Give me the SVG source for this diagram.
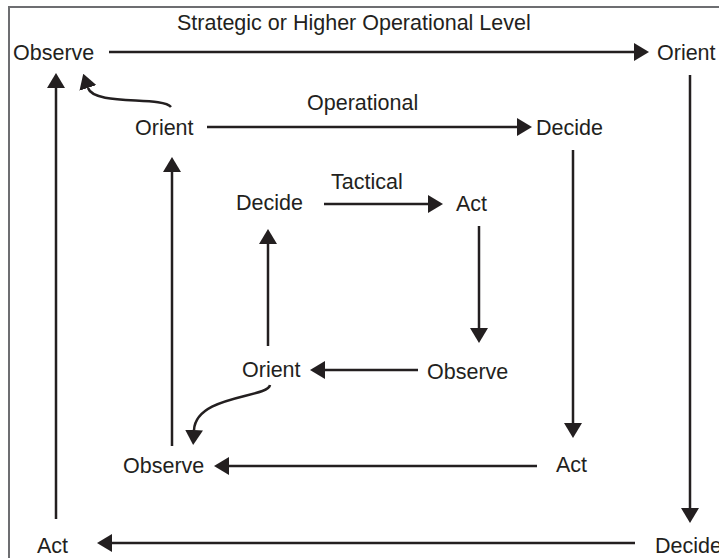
<svg xmlns="http://www.w3.org/2000/svg" width="719" height="558" viewBox="0 0 719 558">
<style>
text{font-family:"Liberation Sans",Arial,sans-serif;font-size:21.5px;fill:#231f20}
.c{fill:none;stroke:#231f20;stroke-width:2.5;marker-end:url(#ah)}
</style>
<defs>
<marker id="ah" markerUnits="userSpaceOnUse" viewBox="0 0 15 18" markerWidth="15" markerHeight="18" refX="0" refY="9" orient="auto">
<path d="M0,0 L15,9 L0,18 z" fill="#231f20"/>
</marker>
</defs>
<rect width="719" height="558" fill="#fff"/>
<path d="M9,558 V7 H719" fill="none" stroke="#6d6e71" stroke-width="2"/>
<g id="labels">
<text x="177" y="30">Strategic or Higher Operational Level</text>
<text x="307" y="110">Operational</text>
<text x="331" y="189">Tactical</text>
</g>
<g id="s-observe"><text x="13" y="60">Observe</text></g>
<g id="s-orient"><text x="657" y="60">Orient</text></g>
<g id="s-decide"><text x="655" y="553">Decide</text></g>
<g id="s-act"><text x="37" y="553">Act</text></g>
<g id="o-orient"><text x="135" y="135">Orient</text></g>
<g id="o-decide"><text x="536" y="135">Decide</text></g>
<g id="o-act"><text x="556" y="472">Act</text></g>
<g id="o-observe"><text x="123" y="473">Observe</text></g>
<g id="t-decide"><text x="236" y="210">Decide</text></g>
<g id="t-act"><text x="456" y="211">Act</text></g>
<g id="t-observe"><text x="427" y="379">Observe</text></g>
<g id="t-orient"><text x="242" y="377">Orient</text></g>
<g id="connectors">
<path class="c" d="M109,52 H634"/>
<path class="c" d="M690,75 V508"/>
<path class="c" d="M635,543 H112"/>
<path class="c" d="M56,519 V88"/>
<path class="c" d="M171,107 C162,96 94,106 88,88"/>
<path class="c" d="M207,127 H517"/>
<path class="c" d="M573,150 V423"/>
<path class="c" d="M537,466 H229"/>
<path class="c" d="M172,446 V172"/>
<path class="c" d="M270,385 C268,398 196,395 194,430"/>
<path class="c" d="M324,204 H428"/>
<path class="c" d="M479,226 V328"/>
<path class="c" d="M418,370 H325"/>
<path class="c" d="M268,346 V244"/>
</g>
</svg>
